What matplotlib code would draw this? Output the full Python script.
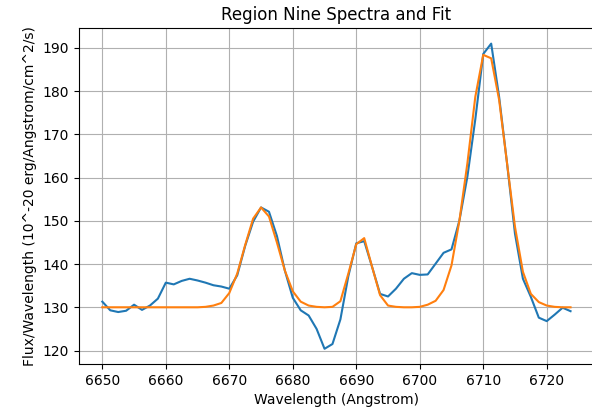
import matplotlib
matplotlib.use("Agg")
import matplotlib.pyplot as plt

wavelength = [
    6650.00, 6651.25, 6652.50, 6653.75, 6655.00, 6656.25, 6657.50, 6658.75, 6660.00, 6661.25,
    6662.50, 6663.75, 6665.00, 6666.25, 6667.50, 6668.75, 6670.00, 6671.25, 6672.50, 6673.75,
    6675.00, 6676.25, 6677.50, 6678.75, 6680.00, 6681.25, 6682.50, 6683.75, 6685.00, 6686.25,
    6687.50, 6688.75, 6690.00, 6691.25, 6692.50, 6693.75, 6695.00, 6696.25, 6697.50, 6698.75,
    6700.00, 6701.25, 6702.50, 6703.75, 6705.00, 6706.25, 6707.50, 6708.75, 6710.00, 6711.25,
    6712.50, 6713.75, 6715.00, 6716.25, 6717.50, 6718.75, 6720.00, 6721.25, 6722.50, 6723.75,
]

spectrum = [
    131.3, 129.3, 128.9, 129.2, 130.6, 129.4, 130.4, 132.0, 135.7, 135.3,
    136.1, 136.6, 136.2, 135.7, 135.1, 134.8, 134.3, 137.4, 144.2, 149.8,
    153.1, 152.1, 146.5, 138.5, 132.2, 129.3, 128.1, 125.0, 120.4, 121.5,
    127.2, 137.2, 144.8, 145.3, 139.3, 133.1, 132.5, 134.3, 136.6, 137.9,
    137.5, 137.6, 140.1, 142.6, 143.4, 150.1, 160.2, 173.5, 188.6, 191.0,
    178.7, 163.3, 147.0, 136.6, 132.4, 127.6, 126.8, 128.3, 129.9, 129.1,
]

fit = [
    130.0, 130.0, 130.0, 130.0, 130.0, 130.0, 130.0, 130.0, 130.0, 130.0,
    130.0, 130.0, 130.0, 130.1, 130.4, 131.0, 133.3, 137.8, 144.4, 150.5,
    153.1, 151.0, 145.0, 138.5, 133.7, 131.3, 130.4, 130.1, 130.0, 130.1,
    131.4, 137.8, 144.6, 146.0, 139.3, 132.8, 130.4, 130.1, 130.0, 130.0,
    130.1, 130.6, 131.5, 134.0, 139.7, 150.1, 163.3, 178.7, 188.4, 187.6,
    178.0, 163.3, 148.6, 138.2, 133.1, 131.2, 130.4, 130.1, 130.0, 130.0,
]

fig = plt.figure(figsize=(5.92, 4.17), dpi=100)
ax = fig.add_axes([0.1333, 0.127, 0.870, 0.805])
ax.plot(wavelength, spectrum, color="C0")
ax.plot(wavelength, fit, color="C1")
ax.grid(True)
ax.spines["right"].set_visible(False)
ax.set_title("Region Nine Spectra and Fit")
ax.set_xlabel("Wavelength (Angstrom)")
ax.set_ylabel("Flux/Wavelength (10^-20 erg/Angstrom/cm^2/s)")
fig.savefig("out.png", dpi=100)
